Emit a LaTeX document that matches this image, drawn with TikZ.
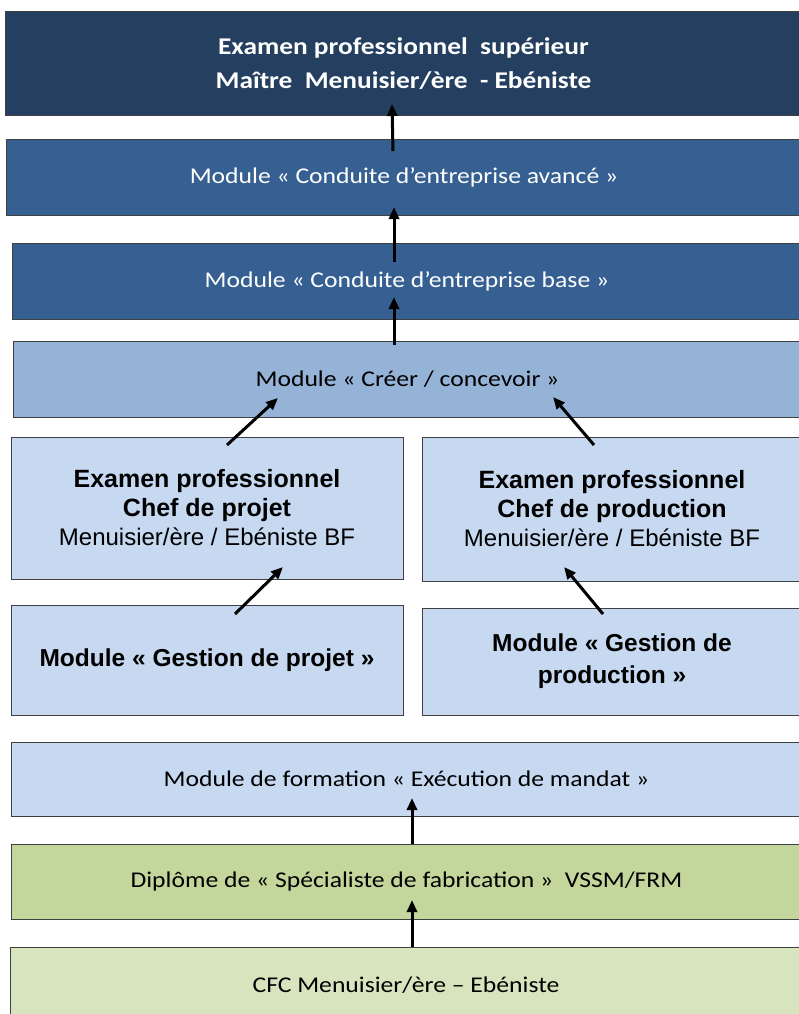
\documentclass[tikz,border=0pt]{standalone}
\usepackage{fontspec}
\newfontfamily\calfont[FakeStretch=1.14]{Carlito}
\newfontfamily\arifont{Liberation Sans}
\usetikzlibrary{arrows.meta,calc}
\definecolor{cA}{HTML}{243F60}
\definecolor{cB}{HTML}{366092}
\definecolor{cC}{HTML}{95B3D7}
\definecolor{cD}{HTML}{C6D9F1}
\definecolor{cE}{HTML}{C3D69B}
\definecolor{cF}{HTML}{D7E4BD}
\definecolor{edge}{HTML}{404040}
\begin{document}
\begin{tikzpicture}[x=1pt,y=-1pt,
  box/.style={draw=edge, line width=1pt, inner sep=0pt, outer sep=0pt, align=center, anchor=north west},
  calt/.style={font=\calfont\fontsize{22.5}{27}\selectfont},
  calb/.style={font=\calfont\bfseries\fontsize{24}{34}\selectfont},
  arib/.style={font=\arifont\bfseries\fontsize{24.5}{32}\selectfont},
  ariexam/.style={font=\arifont\fontsize{24}{29}\selectfont},
  arr/.style={line width=3pt, -{Triangle[length=12pt,width=10pt]}}]
\useasboundingbox (0,0) rectangle (799,1014);
% boxes
\node[box, calb, fill=cA, text=white, minimum width=797pt, minimum height=104pt] (b1) at (5,12)
  {Examen professionnel\ \ supérieur\\Maître\ \ Menuisier/ère\ \ - Ebéniste};
\node[box, calt, fill=cB, text=white, minimum width=796pt, minimum height=76pt] (b2) at (6,139)
  {Module « Conduite d’entreprise avancé »};
\node[box, calt, fill=cB, text=white, minimum width=790pt, minimum height=76pt] (b3) at (12,243)
  {Module « Conduite d’entreprise base »};
\node[box, calt, fill=cC, text=black, minimum width=789pt, minimum height=76pt] (b4) at (13,341)
  {Module « Créer / concevoir »};
\node[box, ariexam, fill=cD, minimum width=392pt, minimum height=142pt] (b5l) at (11,437)
  {{\bfseries\fontsize{25}{29}\selectfont Examen professionnel}\\{\bfseries\fontsize{25}{29}\selectfont Chef de projet}\\Menuisier/ère / Ebéniste BF};
\node[box, ariexam, fill=cD, minimum width=380pt, minimum height=144pt] (b5r) at (422,437)
  {{\bfseries\fontsize{25}{29}\selectfont Examen professionnel}\\{\bfseries\fontsize{25}{29}\selectfont Chef de production}\\Menuisier/ère / Ebéniste BF};
\node[box, arib, fill=cD, minimum width=392pt, minimum height=110pt] (b6l) at (11,605)
  {Module « Gestion de projet »};
\node[box, arib, fill=cD, minimum width=380pt, minimum height=107pt] (b6r) at (422,608)
  {Module « Gestion de\\production »};
\node[box, calt, fill=cD, minimum width=791pt, minimum height=74pt] (b7) at (11,742)
  {Module de formation « Exécution de mandat »};
\node[box, calt, fill=cE, minimum width=791pt, minimum height=75pt] (b8) at (11,844)
  {Diplôme de « Spécialiste de fabrication »\ \ VSSM/FRM};
\node[box, calt, fill=cF, minimum width=792pt, minimum height=76pt] (b9) at (10,947)
  {CFC Menuisier/ère – Ebéniste};
% arrows
\draw[arr] ($(b2.north west)+(387,12)$) -- ($(b1.south west)+(387,-12)$);
\draw[arr] ($(b3.north west)+(382,19)$) -- ($(b2.south west)+(388,-8)$);
\draw[arr] ($(b4.north west)+(381,4)$) -- ($(b3.south west)+(382,-22)$);
\draw[arr] ($(b5l.north west)+(216,8)$) -- ($(b4.south west)+(265,-19)$);
\draw[arr] ($(b5r.north west)+(172,8)$) -- ($(b4.south west)+(540,-20)$);
\draw[arr] ($(b6l.north west)+(224,9)$) -- ($(b5l.south west)+(272,-12)$);
\draw[arr] ($(b6r.north west)+(181,6)$) -- ($(b5r.south west)+(142,-14)$);
\draw[arr] ($(b8.north west)+(401,0)$) -- ($(b7.south west)+(401,-18)$);
\draw[arr] ($(b9.north west)+(402,0)$) -- ($(b8.south west)+(401,-19)$);
\end{tikzpicture}
\end{document}
